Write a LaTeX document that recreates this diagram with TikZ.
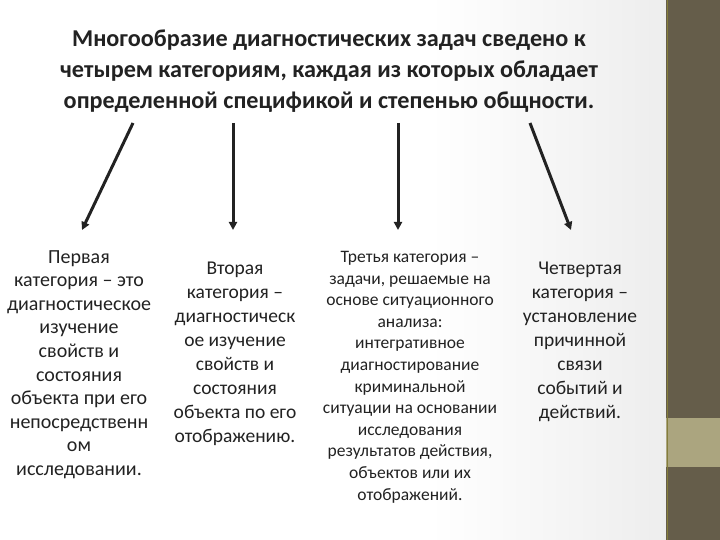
\documentclass[tikz,border=0pt]{standalone}
\usepackage{fontspec}
\setmainfont{Carlito}
\usepackage{xcolor}
\usetikzlibrary{positioning,calc,arrows.meta}
\definecolor{txtColor}{RGB}{34,34,34}
\definecolor{barColor}{RGB}{101,93,74}
\definecolor{bandColor}{RGB}{171,165,127}
\tikzset{
    catnode/.style={
        align=center,
        inner sep=0pt,
        anchor=north,
        text=txtColor,
        font=\fontsize{19.5}{24}\selectfont
    },
    ptr/.style={
        -{Triangle[length=8pt,width=8pt]},
        line width=3pt,
        draw=txtColor
    }
}

\begin{document}
\begin{tikzpicture}[x=1pt, y=-1pt]
    \useasboundingbox (0,0) rectangle (720,540);
    % background
    \fill[white] (0,0) rectangle (666,540);
    \shade[left color=white, right color=black!7] (430,0) rectangle (666,540);
    \fill[barColor] (666,0) rectangle (720,540);
    \fill[bandColor] (666,418) rectangle (720,467);
    \draw[barColor!80!yellow, line width=1.5pt] (667.5,0) -- (667.5,540);

    \node[catnode, font=\fontsize{24.2}{31}\bfseries\selectfont] (title) at (329,30)
        {Многообразие диагностических задач сведено к\\
         четырем категориям, каждая из которых обладает\\
         определенной спецификой и степенью общности.};

    \node[catnode, font=\fontsize{20}{23.6}\selectfont] (A) at (79,250)
        {Первая\\ категория – это\\ диагностическое\\ изучение\\ свойств и\\
         состояния\\ объекта при его\\ непосредственн\\ ом\\ исследовании.};
    \node[catnode] (B) at (235,262)
        {Вторая\\ категория –\\ диагностическ\\ ое изучение\\ свойств и\\
         состояния\\ объекта по его\\ отображению.};
    \node[catnode, font=\fontsize{17.5}{21.6}\selectfont] (C) at (410,251)
        {Третья категория –\\ задачи, решаемые на\\ основе ситуационного\\ анализа:\\
         интегративное\\ диагностирование\\ криминальной\\ ситуации на основании\\
         исследования\\ результатов действия,\\ объектов или их\\ отображений.};
    \node[catnode] (D) at (580,262)
        {Четвертая\\ категория –\\ установление\\ причинной\\ связи\\ событий и\\ действий.};

    \coordinate (s1) at (133,123);  \coordinate (e1) at (82,230);
    \coordinate (s2) at (233,123);  \coordinate (e2) at (233,230);
    \coordinate (s3) at (398,123);  \coordinate (e3) at (398,230);
    \coordinate (s4) at (530,123);  \coordinate (e4) at (571,230);

    \draw[ptr] (s1) -- (e1);
    \draw[ptr] (s2) -- (e2);
    \draw[ptr] (s3) -- (e3);
    \draw[ptr] (s4) -- (e4);
\end{tikzpicture}
\end{document}
